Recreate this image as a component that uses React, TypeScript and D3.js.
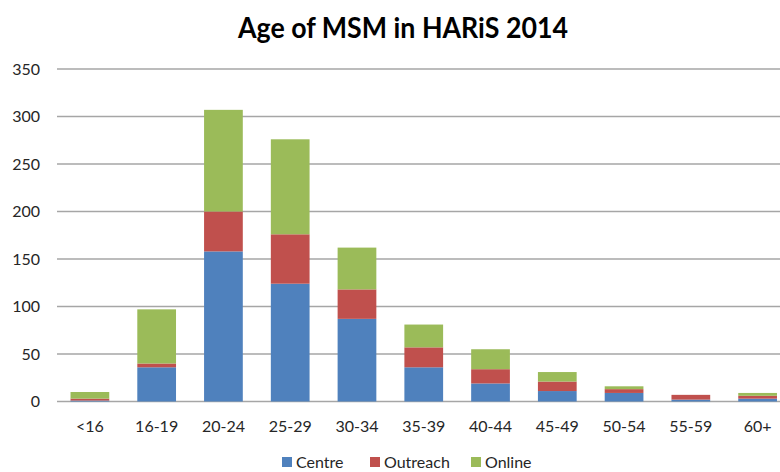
import { useEffect, useRef } from "react";
import { scaleBand, scaleLinear, select, stack } from "d3";

const ageGroups = ["<16", "16-19", "20-24", "25-29", "30-34", "35-39", "40-44", "45-49", "50-54", "55-59", "60+"];
const centre = [1, 36, 158, 124, 87, 36, 19, 11, 9, 2, 3];
const outreach = [2, 4, 42, 52, 31, 21, 15, 10, 4, 5, 3];
const online = [7, 57, 107, 100, 44, 24, 21, 10, 3, 0, 3];
const seriesNames = ["Centre", "Outreach", "Online"];
const seriesColors = ["#4F81BD", "#C0504D", "#9BBB59"];
const yTicks = [0, 50, 100, 150, 200, 250, 300, 350];

const FONT = "Lato, 'Open Sans', sans-serif";

export default function App() {
  const ref = useRef<SVGSVGElement | null>(null);

  useEffect(() => {
    if (!ref.current) return;
    const svg = select(ref.current);
    svg.selectAll("*").remove();

    const rows = ageGroups.map((g, i) => ({
      group: g,
      Centre: centre[i],
      Outreach: outreach[i],
      Online: online[i],
    }));

    const x = scaleBand<string>()
      .domain(ageGroups)
      .range([56.5, 791])
      .paddingInner(0.42)
      .paddingOuter(0.21);
    const y = scaleLinear().domain([0, 350]).range([401.5, 69]);

    // gridlines
    svg
      .append("g")
      .selectAll("line")
      .data(yTicks)
      .join("line")
      .attr("x1", 57)
      .attr("x2", 780)
      .attr("y1", (d) => y(d))
      .attr("y2", (d) => y(d))
      .attr("stroke", "#A6A6A6")
      .attr("stroke-width", 1.5);

    // y tick labels
    svg
      .append("g")
      .selectAll("text")
      .data(yTicks)
      .join("text")
      .attr("x", 40)
      .attr("y", (d) => y(d))
      .attr("dy", "0.36em")
      .attr("text-anchor", "end")
      .attr("font-family", FONT)
      .attr("font-size", 16)
      .attr("fill", "#262626")
      .text((d) => d);

    // stacked bars
    const stacked = stack<any>().keys(seriesNames)(rows);
    svg
      .append("g")
      .selectAll("g")
      .data(stacked)
      .join("g")
      .attr("fill", (_, i) => seriesColors[i])
      .selectAll("rect")
      .data((s) => s)
      .join("rect")
      .attr("x", (d: any) => x(d.data.group)!)
      .attr("width", x.bandwidth())
      .attr("y", (d) => y(d[1]))
      .attr("height", (d) => y(d[0]) - y(d[1]));

    // x labels
    svg
      .append("g")
      .selectAll("text")
      .data(ageGroups)
      .join("text")
      .attr("x", (d) => x(d)! + x.bandwidth() / 2)
      .attr("y", 432)
      .attr("text-anchor", "middle")
      .attr("font-family", FONT)
      .attr("font-size", 16)
      .attr("fill", "#262626")
      .text((d) => d);

    // title
    svg
      .append("text")
      .attr("x", 403)
      .attr("y", 38)
      .attr("text-anchor", "middle")
      .attr("font-family", FONT)
      .attr("font-weight", "bold")
      .attr("font-size", 28)
      .attr("fill", "#000")
      .attr("textLength", 330)
      .attr("lengthAdjust", "spacingAndGlyphs")
      .text("Age of MSM in HARiS 2014");

    // legend
    const legendX = [282, 370, 471];
    const leg = svg
      .append("g")
      .selectAll("g")
      .data(seriesNames)
      .join("g")
      .attr("transform", (_, i) => `translate(${legendX[i]},457)`);
    leg
      .append("rect")
      .attr("width", 10)
      .attr("height", 10)
      .attr("fill", (_, i) => seriesColors[i]);
    leg
      .append("text")
      .attr("x", 14)
      .attr("y", 11)
      .attr("font-family", FONT)
      .attr("font-size", 16)
      .attr("fill", "#262626")
      .text((d) => d);
  }, []);

  return (
    <svg
      ref={ref}
      width={780}
      height={472}
      style={{ position: "absolute", left: 0, top: 0, background: "#fff" }}
    />
  );
}
